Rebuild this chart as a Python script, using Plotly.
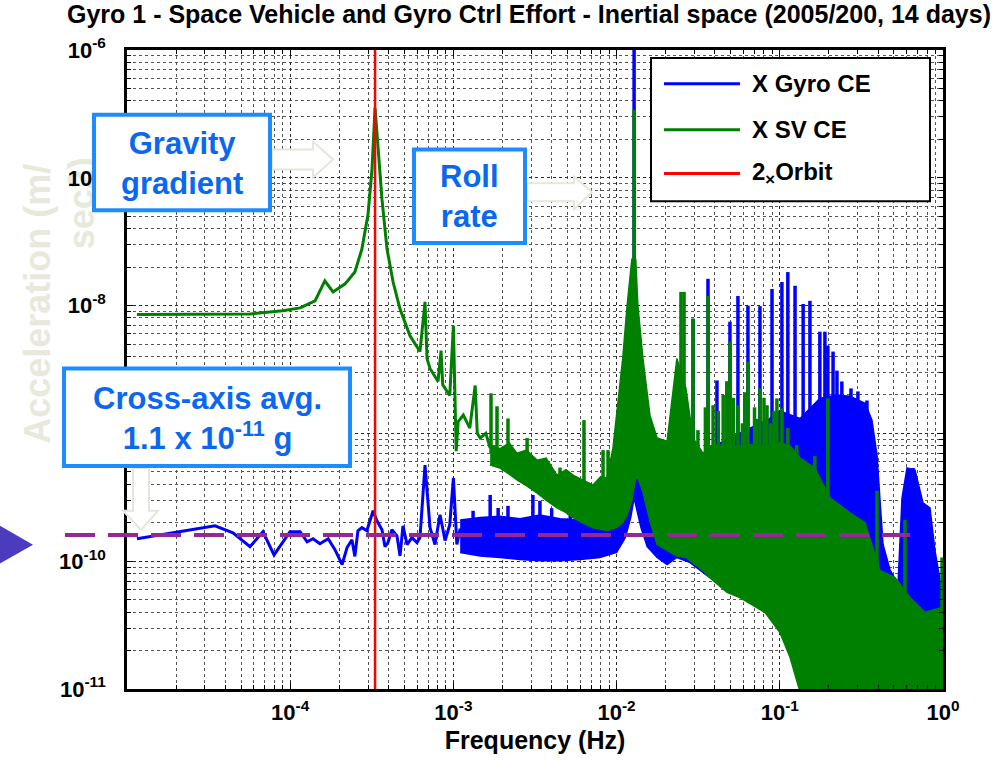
import plotly.graph_objects as go

# ---------------- data ----------------
title_text = "Gyro 1 - Space Vehicle and Gyro Ctrl Effort - Inertial space (2005/200, 14 days)"
x_tick_vals = [1e-4, 1e-3, 1e-2, 1e-1, 1.0]
x_tick_text = ["10<sup>-4</sup>", "10<sup>-3</sup>", "10<sup>-2</sup>", "10<sup>-1</sup>", "10<sup>0</sup>"]
y_tick_vals = [1e-11, 1e-10, 1e-9, 1e-8, 1e-7, 1e-6]
y_tick_text = ["10<sup>-11</sup>", "10<sup>-10</sup>", "10<sup>-9</sup>", "10<sup>-8</sup>", "10<sup>-7</sup>", "10<sup>-6</sup>"]
series_names = ["X Gyro CE", "X SV CE", "2<sub>×</sub>Orbit"]

# X SV CE (green) - low-frequency clean part
sv_line_f = [1.15e-5, 3.46e-5, 5.67e-5, 9.0e-5, 1.15e-4, 1.42e-4, 1.63e-4, 1.83e-4, 2.17e-4, 2.49e-4,
             2.75e-4, 3.0e-4, 3.17e-4, 3.31e-4, 3.45e-4, 3.65e-4, 3.92e-4, 4.27e-4, 4.71e-4, 5.42e-4,
             6.24e-4, 6.7e-4, 6.89e-4, 7.19e-4, 8.05e-4, 8.4e-4, 8.6e-4, 9.1e-4, 9.5e-4, 1.0e-3,
             1.04e-3, 1.07e-3, 1.15e-3, 1.26e-3, 1.36e-3, 1.4e-3, 1.46e-3, 1.58e-3, 1.68e-3]
sv_line_a = [8.5e-9, 8.5e-9, 8.6e-9, 9.1e-9, 9.6e-9, 1.09e-8, 1.56e-8, 1.28e-8, 1.48e-8, 1.83e-8,
             2.77e-8, 5.2e-8, 1.16e-7, 3.53e-7, 1.66e-7, 6.8e-8, 2.77e-8, 1.53e-8, 9.4e-9, 5.8e-9,
             4.37e-9, 1.07e-8, 3.85e-9, 3.22e-9, 2.55e-9, 4.45e-9, 2.4e-9, 2.13e-9, 1.98e-9, 6.96e-9,
             7.27e-10, 1.24e-9, 1.39e-9, 1.1e-9, 2.37e-9, 1.0e-9, 9.2e-10, 1.0e-9, 7.67e-10]
# X SV CE - dense part (upper / lower envelope of the spectrum)
sv_band_f = [1.68e-3, 1.93e-3, 2.2e-3, 2.45e-3, 2.8e-3, 3.25e-3, 3.7e-3, 4.31e-3, 4.9e-3, 5.41e-3,
             6.2e-3, 7.17e-3, 8.0e-3, 8.73e-3, 9.5e-3, 1.0e-2,
             1.09e-2, 1.16e-2, 1.24e-2, 1.31e-2, 1.35e-2, 1.45e-2, 1.6e-2, 1.77e-2, 2.04e-2, 2.34e-2,
             2.66e-2, 2.94e-2, 3.38e-2, 3.9e-2, 4.75e-2, 5.7e-2, 6.85e-2, 8.11e-2, 1.0e-1, 1.155e-1,
             1.33e-1, 1.64e-1, 2.03e-1, 2.69e-1, 3.33e-1, 4.11e-1, 5.08e-1, 6.28e-1, 7.76e-1, 1.0]
sv_band_hi = [8.1e-10, 7.6e-10, 8.4e-10, 7.0e-10, 7.4e-10, 6.18e-10, 6.4e-10, 4.72e-10, 5.2e-10, 4.72e-10,
              4.3e-10, 3.95e-10, 4.6e-10, 4.48e-10, 7.67e-10, 1.39e-9,
              3.85e-9, 1.0e-8, 2.31e-8, 2.31e-8, 1.0e-8, 3.85e-9, 1.39e-9, 9.2e-10, 8.7e-10, 3.85e-9,
              2.25e-9, 9.2e-10, 7.0e-10, 8.2e-10, 8.0e-10, 8.0e-10, 8.2e-10, 8.0e-10, 8.5e-10, 8.0e-10,
              6.41e-10, 5.36e-10, 3.13e-10, 2.39e-10, 2.0e-10, 8.45e-11, 7.45e-11, 5.2e-11, 3.98e-11, 4.35e-11]
sv_band_lo = [5.65e-10, 5.36e-10, 4.8e-10, 4.32e-10, 3.9e-10, 3.42e-10, 3.0e-10, 2.61e-10, 2.4e-10, 2.19e-10,
              2.0e-10, 1.83e-10, 1.78e-10, 1.73e-10, 1.8e-10, 1.83e-10,
              2.0e-10, 2.3e-10, 3.0e-10, 4.48e-10, 4.48e-10, 3.5e-10, 2.07e-10, 1.35e-10, 1.21e-10, 1.1e-10,
              1.07e-10, 9.75e-11, 8.45e-11, 7.06e-11, 5.7e-11, 5.2e-11, 4.51e-11, 3.98e-11, 2.78e-11, 1.77e-11,
              9.5e-12, 9.5e-12, 9.5e-12, 9.5e-12, 9.5e-12, 9.5e-12, 9.5e-12, 9.5e-12, 9.5e-12, 9.5e-12]
# X SV CE - spectral lines (frequency, peak, foot)
sv_spike_f = [1.7e-3, 1.85e-3, 2.16e-3, 2.83e-3, 3.75e-3, 4.5e-3, 6.31e-3, 8.26e-3, 8.86e-3, 1.28e-2,
              2.48e-2, 2.59e-2, 2.94e-2, 3.15e-2, 3.5e-2, 3.63e-2, 3.9e-2, 4.2e-2, 4.5e-2, 4.75e-2,
              4.95e-2, 5.2e-2, 5.54e-2, 5.9e-2, 6.1e-2, 6.38e-2, 7.0e-2, 7.2e-2, 7.56e-2, 8.0e-2,
              8.35e-2, 8.8e-2, 9.2e-2, 9.6e-2, 1.03e-1, 1.12e-1, 1.27e-1, 1.43e-1, 1.64e-1, 1.97e-1,
              2.27e-1, 2.51e-1, 3.94e-1, 5.85e-1, 9.86e-1]
sv_spike_a = [2.06e-9, 1.63e-9, 1.31e-9, 9.2e-10, 6.07e-10, 5.4e-10, 1.27e-9, 7.4e-10, 7.4e-10, 3.41e-7,
              1.28e-8, 1.28e-8, 7.9e-9, 1.06e-9, 1.6e-9, 1.19e-8, 1.66e-9, 1.5e-9, 2.0e-9, 2.55e-9,
              5.23e-9, 1.9e-9, 1.66e-9, 1.2e-9, 2.1e-9, 3.65e-9, 1.6e-9, 1.3e-9, 2.25e-9, 1.9e-9,
              1.66e-9, 1.2e-9, 1.5e-9, 1.88e-9, 1.57e-9, 1.1e-9, 8.1e-10, 6.07e-10, 6.64e-10, 1.88e-9,
              2.76e-10, 2.48e-10, 3.55e-10, 2.11e-10, 1.07e-10]
sv_spike_foot = [7e-10, 7e-10, 6e-10, 5e-10, 3.5e-10, 3e-10, 2.5e-10, 2.5e-10, 2.5e-10, 2e-8,
                 2e-9, 2e-9, 9e-10, 5e-10, 6e-10, 6e-10, 6e-10, 6e-10, 6e-10, 6e-10,
                 6e-10, 6e-10, 6e-10, 6e-10, 6e-10, 6e-10, 6e-10, 6e-10, 6e-10, 6e-10,
                 6e-10, 6e-10, 6e-10, 6e-10, 6e-10, 5e-10, 4e-10, 3e-10, 3e-10, 3e-10,
                 2e-10, 2e-10, 8e-11, 5e-11, 4e-11]

# X Gyro CE (blue) - low-frequency clean part
gyro_line_f = [1.15e-5, 3.46e-5, 4.46e-5, 5.67e-5, 6.81e-5, 7.96e-5, 9.97e-5, 1.15e-4, 1.27e-4, 1.38e-4,
               1.52e-4, 1.71e-4, 1.88e-4, 2.08e-4, 2.23e-4, 2.39e-4, 2.49e-4, 2.6e-4, 2.75e-4, 2.95e-4,
               3.22e-4, 3.4e-4, 3.65e-4, 3.81e-4, 3.97e-4, 4.2e-4, 4.51e-4, 4.71e-4, 4.91e-4, 5.2e-4,
               5.57e-4, 5.98e-4, 6.24e-4, 6.7e-4, 7.19e-4, 7.71e-4, 8.28e-4, 8.89e-4, 9.5e-4, 1.0e-3,
               1.05e-3, 1.1e-3]
gyro_line_a = [1.5e-10, 1.89e-10, 1.67e-10, 1.3e-10, 1.7e-10, 1.12e-10, 1.7e-10, 1.7e-10, 1.42e-10, 1.5e-10,
               1.37e-10, 1.5e-10, 1.23e-10, 9.4e-11, 1.28e-10, 1.47e-10, 1.09e-10, 1.73e-10, 1.83e-10, 1.73e-10,
               2.48e-10, 2.07e-10, 1.76e-10, 1.3e-10, 1.4e-10, 1.76e-10, 1.58e-10, 1.1e-10, 1.89e-10, 1.35e-10,
               1.53e-10, 1.4e-10, 1.53e-10, 5.65e-10, 1.83e-10, 1.35e-10, 2.31e-10, 1.45e-10, 1.93e-10, 4.48e-10,
               1.35e-10, 1.8e-10]
# X Gyro CE - dense part (upper / lower envelope)
gyro_band_f = [1.1e-3, 1.46e-3, 1.93e-3, 2.56e-3, 3.39e-3, 4.5e-3, 5.97e-3, 7.91e-3, 1.0e-2, 1.13e-2,
               1.22e-2, 1.28e-2, 1.33e-2, 1.41e-2, 1.54e-2, 1.77e-2, 2.04e-2, 2.34e-2, 2.82e-2, 3.73e-2,
               4.95e-2, 6.57e-2, 8.71e-2, 1.0e-1, 1.33e-1, 1.76e-1, 2.24e-1, 2.69e-1, 3.33e-1, 3.67e-1,
               3.94e-1, 4.29e-1, 4.73e-1, 5.3e-1, 5.61e-1, 6.02e-1, 6.74e-1, 7.54e-1, 8.32e-1, 8.93e-1, 1.0]
gyro_band_hi = [2.1e-10, 2.2e-10, 2.25e-10, 2.15e-10, 2.3e-10, 2.15e-10, 2.1e-10, 2.15e-10, 2.61e-10, 5.36e-10,
                1.1e-9, 1.88e-9, 9.2e-10, 4.48e-10, 2.61e-10, 1.83e-10, 1.7e-10, 1.83e-10, 4.48e-10, 7.67e-10,
                9.2e-10, 1.1e-9, 1.31e-9, 1.5e-9, 1.31e-9, 1.88e-9, 2.0e-9, 1.95e-9, 1.72e-9, 1.27e-9,
                6.76e-10, 1.35e-10, 8.6e-11, 6.58e-11, 3.13e-10, 5.36e-10, 5.17e-10, 2.86e-10, 2.61e-10, 1.21e-10, 5.2e-11]
gyro_band_lo = [1.17e-10, 1.1e-10, 1.07e-10, 1.03e-10, 1.01e-10, 1.01e-10, 1.03e-10, 1.07e-10, 1.17e-10, 1.53e-10,
                2.19e-10, 3.13e-10, 2.61e-10, 1.83e-10, 1.3e-10, 1.07e-10, 9.4e-11, 1.07e-10, 9.75e-11, 7.45e-11,
                5.7e-11, 4.8e-11, 3.9e-11, 3.64e-11, 1.77e-11, 1.24e-11, 1.1e-11, 1.1e-11, 1.1e-11, 1.1e-11,
                1.1e-11, 1.05e-11, 1.05e-11, 1.05e-11, 1.05e-11, 1.1e-11, 1.1e-11, 1.1e-11, 1.1e-11, 1.1e-11, 1.0e-11]
gyro_spike_f = [1.32e-3, 1.68e-3, 1.88e-3, 2.16e-3, 3.07e-3, 3.39e-3, 4.0e-3, 5.2e-3, 6.6e-3, 1.28e-2,
                2.94e-2, 3.63e-2, 4.12e-2, 4.75e-2, 4.95e-2, 5.54e-2, 6.38e-2, 7.56e-2, 8.96e-2, 1.03e-1,
                1.12e-1, 1.24e-1, 1.39e-1, 1.53e-1, 1.76e-1, 1.89e-1, 1.97e-1, 2.12e-1, 2.24e-1, 2.4e-1,
                2.73e-1, 3.01e-1, 3.42e-1, 6.55e-1]
gyro_spike_a = [2.48e-10, 3.3e-10, 2.61e-10, 2.71e-10, 3.3e-10, 2.97e-10, 2.6e-10, 2.7e-10, 2.5e-10, 1.1e-6,
                7.9e-9, 1.62e-8, 2.6e-9, 2.55e-9, 7.48e-9, 1.19e-8, 1.0e-8, 9.9e-9, 1.35e-8, 1.53e-8,
                1.83e-8, 1.43e-8, 1.03e-8, 1.09e-8, 6.25e-9, 6.25e-9, 4.86e-9, 4.37e-9, 3.1e-9, 2.55e-9,
                2.25e-9, 2.13e-9, 1.81e-9, 5.36e-10]
gyro_spike_foot = [1.5e-10, 1.5e-10, 1.5e-10, 1.5e-10, 1.5e-10, 1.5e-10, 1.5e-10, 1.5e-10, 1.5e-10, 1.5e-9,
                   3e-10, 5e-10, 5e-10, 5e-10, 5e-10, 5e-10, 5e-10, 5e-10, 5e-10, 1e-9,
                   1e-9, 1e-9, 1e-9, 1e-9, 1e-9, 1e-9, 1e-9, 1e-9, 1e-9, 1e-9,
                   1e-9, 1e-9, 1e-9, 2e-10]

orbit2_freq = 3.31e-4          # 2 x orbital frequency (Hz)
cross_axis_avg = 1.6e-10       # dashed reference level (m/s^2)
y_range_vals = [1e-11, 1e-6]

# ---------------- styling helpers (layout positions only) ----------------
PL, PR, PT, PB = 127, 943, 50, 692
def px(x):
    return (x - PL) / (PR - PL)
def py(y):
    return (PB - y) / (PB - PT)

BLUE, GREEN, RED, PURPLE = "#0000FF", "#008000", "#FF0000", "#962896"
BOXBLUE, TEXTBLUE = "#1E8CFF", "#0A68F0"
FONT = "Liberation Sans, Arial, sans-serif"

def spikes_xy(freqs, feet, peaks):
    xs, ys = [], []
    for f, b, p in zip(freqs, feet, peaks):
        xs += [f, f, None]
        ys += [b, p, None]
    return xs, ys

def band_xy(f, hi, lo):
    return list(f) + list(f[::-1]), list(hi) + list(lo[::-1])

fig = go.Figure()

# blue series
bx, by = band_xy(gyro_band_f, gyro_band_hi, gyro_band_lo)
fig.add_trace(go.Scatter(x=bx, y=by, fill="toself", fillcolor=BLUE, mode="lines",
                         line=dict(color=BLUE, width=1.5), name=series_names[0], showlegend=False))
fig.add_trace(go.Scatter(x=gyro_line_f, y=gyro_line_a, mode="lines",
                         line=dict(color=BLUE, width=3), showlegend=False))
sx, sy = spikes_xy(gyro_spike_f, gyro_spike_foot, gyro_spike_a)
fig.add_trace(go.Scatter(x=sx, y=sy, mode="lines", line=dict(color=BLUE, width=3.5), showlegend=False))

# green series
gx, gy = band_xy(sv_band_f, sv_band_hi, sv_band_lo)
fig.add_trace(go.Scatter(x=gx, y=gy, fill="toself", fillcolor=GREEN, mode="lines",
                         line=dict(color=GREEN, width=1.5), name=series_names[1], showlegend=False))
fig.add_trace(go.Scatter(x=sv_line_f, y=sv_line_a, mode="lines",
                         line=dict(color=GREEN, width=3), showlegend=False))
sx, sy = spikes_xy(sv_spike_f, sv_spike_foot, sv_spike_a)
fig.add_trace(go.Scatter(x=sx, y=sy, mode="lines", line=dict(color=GREEN, width=3.5), showlegend=False))

# 2 x orbit line
fig.add_trace(go.Scatter(x=[orbit2_freq, orbit2_freq], y=y_range_vals, mode="lines",
                         line=dict(color=RED, width=2.5), name=series_names[2], showlegend=False))

minor_x = [m * 10.0 ** k for k in range(-5, 0) for m in range(2, 10)]
minor_y = [m * 10.0 ** k for k in range(-11, -6) for m in range(2, 10)]

axis_common = dict(
    type="log", showline=True, linewidth=2.5, linecolor="black", mirror="allticks",
    ticks="inside", ticklen=6, tickwidth=1, tickcolor="black",
    showgrid=True, gridcolor="#2a2a2a", gridwidth=1, griddash="dot", zeroline=False,
    tickfont=dict(family=FONT, size=22, color="black", weight="bold"),
)
minor_common = dict(tickmode="array", ticks="inside", ticklen=4, tickcolor="black",
                    showgrid=True, gridcolor="#555555", griddash="dot", gridwidth=1)

fig.update_xaxes(**axis_common, range=[-5, 0], tickmode="array", tickvals=x_tick_vals, ticktext=x_tick_text,
                 ticklabelstandoff=2, minor=dict(minor_common, tickvals=minor_x),
                 title=dict(text="Frequency (Hz)", standoff=8,
                            font=dict(family=FONT, size=25, color="black", weight="bold")))
fig.update_yaxes(**axis_common, range=[-11, -6], tickmode="array", tickvals=y_tick_vals, ticktext=y_tick_text,
                 ticklabelstandoff=14, minor=dict(minor_common, tickvals=minor_y))

shapes = []
# pale y-axis label (below everything)
shapes.append(dict(type="rect", xref="paper", yref="paper", x0=px(16), x1=px(54), y0=py(452), y1=py(158),
                   line=dict(width=0), fillcolor="rgba(0,0,0,0)", layer="below",
                   label=dict(text="Acceleration (m/", textangle=-90, textposition="middle center",
                              font=dict(family=FONT, size=36, color="#E9E8DC", weight="bold"))))
shapes.append(dict(type="rect", xref="paper", yref="paper", x0=px(60), x1=px(98), y0=py(250), y1=py(158),
                   line=dict(width=0), fillcolor="rgba(0,0,0,0)", layer="below",
                   label=dict(text="sec2)", textangle=-90, textposition="middle center",
                              font=dict(family=FONT, size=36, color="#E9E8DC", weight="bold"))))
# dashed cross-axis average level
shapes.append(dict(type="line", xref="paper", yref="y", x0=px(65), x1=px(910), y0=cross_axis_avg, y1=cross_axis_avg,
                   line=dict(color=PURPLE, width=4, dash="30px,13px")))
# marker triangle on the left
shapes.append(dict(type="path", xref="paper", yref="paper",
                   path=f"M {px(0)},{py(528)} L {px(0)},{py(566)} L {px(33)},{py(547)} Z",
                   fillcolor="#4B3CBF", line=dict(width=0)))

def arrow_path(pts):
    return "M " + " L ".join(f"{px(x)},{py(y)}" for x, y in pts) + " Z"

ARROW = dict(type="path", xref="paper", yref="paper", fillcolor="white", line=dict(color="#E6E6DA", width=2))
shapes.append(dict(ARROW, path=arrow_path([(272, 150), (313, 150), (313, 142), (333, 160), (313, 178), (313, 170), (272, 170)])))
shapes.append(dict(ARROW, path=arrow_path([(527, 184), (574, 184), (574, 177), (592, 193), (574, 210), (574, 202), (527, 202)])))
shapes.append(dict(ARROW, path=arrow_path([(133, 470), (133, 513), (123, 513), (141, 532), (158, 513), (149, 513), (149, 470)])))

# callout boxes
def box(x0, y0, x1, y1):
    return dict(type="rect", xref="paper", yref="paper", x0=px(x0 + 2), x1=px(x1 - 2), y0=py(y1 - 2), y1=py(y0 + 2),
                fillcolor="white", line=dict(color=BOXBLUE, width=4))
shapes.append(box(92, 113, 272, 213))
shapes.append(box(412, 148, 527, 246))
shapes.append(box(62, 368, 352, 470))

# legend box
shapes.append(dict(type="rect", xref="paper", yref="paper", x0=px(651), x1=px(930), y0=py(202), y1=py(58),
                   fillcolor="white", line=dict(color="black", width=2)))
legend_rows = [84, 130, 174]
legend_colors = [BLUE, GREEN, RED]
for yy, c in zip(legend_rows, legend_colors):
    shapes.append(dict(type="line", xref="paper", yref="paper", x0=px(664), x1=px(740), y0=py(yy), y1=py(yy),
                       line=dict(color=c, width=3)))

annotations = []
for yy, name in zip(legend_rows, series_names):
    annotations.append(dict(xref="paper", yref="paper", x=px(750), y=py(yy), xanchor="left", yanchor="middle",
                            text=name, showarrow=False,
                            font=dict(family=FONT, size=24, color="black", weight="bold")))

box_font = dict(family=FONT, size=31, color=TEXTBLUE, weight="bold")
annotations.append(dict(xref="paper", yref="paper", x=px(182), y=py(164), text="Gravity<br>gradient",
                        showarrow=False, font=box_font, xanchor="center", yanchor="middle"))
annotations.append(dict(xref="paper", yref="paper", x=px(469), y=py(197), text="Roll<br>rate",
                        showarrow=False, font=box_font, xanchor="center", yanchor="middle"))
annotations.append(dict(xref="paper", yref="paper", x=px(207), y=py(420),
                        text="Cross-axis avg.<br>1.1 x 10<sup>-11</sup> g",
                        showarrow=False, font=box_font, xanchor="center", yanchor="middle"))

fig.update_layout(
    width=997, height=763,
    margin=dict(l=PL, r=997 - PR, t=PT, b=763 - PB),
    paper_bgcolor="white", plot_bgcolor="white",
    showlegend=False,
    title=dict(text=title_text, x=67 / 997, xanchor="left", xref="container",
               y=1 - 5 / 763, yanchor="top", yref="container",
               font=dict(family="Liberation Sans Narrow, Arial Narrow, Liberation Sans, Arial", size=25,
                         color="black", weight="bold")),
    shapes=shapes, annotations=annotations,
)

fig.write_html("out.html")
